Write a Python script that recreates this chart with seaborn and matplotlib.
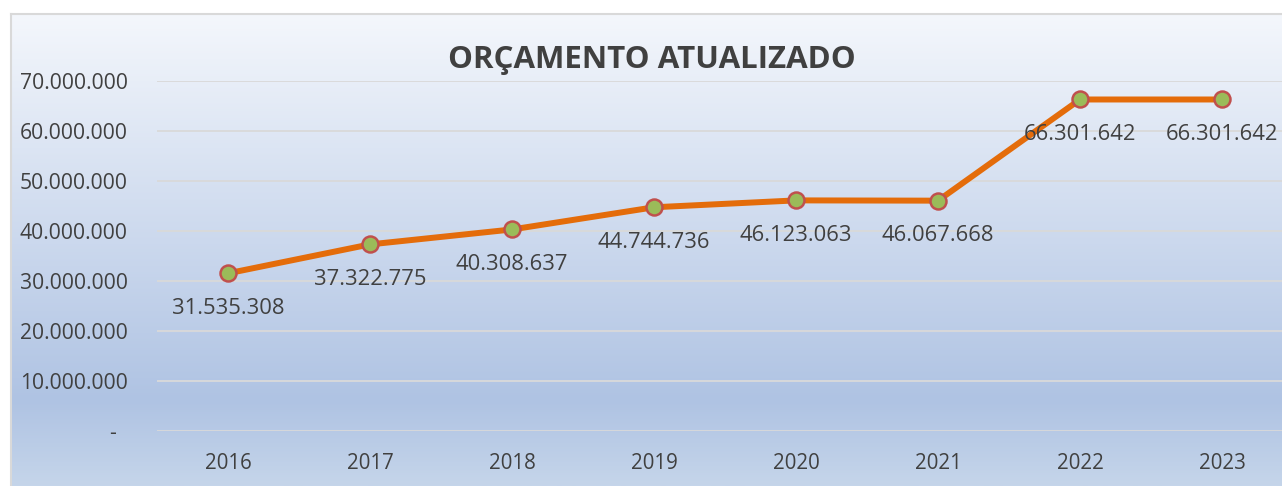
import numpy as np
import pandas as pd
import matplotlib
matplotlib.use("Agg")
import matplotlib.pyplot as plt
from matplotlib.colors import LinearSegmentedColormap
from matplotlib.ticker import FuncFormatter
import seaborn as sns

years = [2016, 2017, 2018, 2019, 2020, 2021, 2022, 2023]
values = [31535308, 37322775, 40308637, 44744736, 46123063, 46067668, 66301642, 66301642]
title = "ORÇAMENTO ATUALIZADO"

sns.set_theme(style="white")
plt.rcParams['font.family'] = ['Open Sans', 'DejaVu Sans']

W, H = 1282, 486
fig = plt.figure(figsize=(W / 100, H / 100), dpi=100)
fig.patch.set_facecolor("white")

# background gradient
bg = fig.add_axes([11 / W, 0, (W - 11) / W, (H - 14) / H], zorder=0)
cmap = LinearSegmentedColormap.from_list(
    "g", [(0.0, "#F4F7FC"), (0.82, "#AFC3E3"), (1.0, "#C5D5EA")])
grad = np.linspace(0, 1, 256).reshape(-1, 1)
bg.imshow(grad, aspect="auto", cmap=cmap, extent=[0, 1, 0, 1], origin="upper")
bg.set_xlim(0, 1); bg.set_ylim(0, 1)
bg.set_xticks([]); bg.set_yticks([])
for s in ["right", "bottom"]:
    bg.spines[s].set_visible(False)
for s in ["left", "top"]:
    bg.spines[s].set_color("#D9D9D9")
    bg.spines[s].set_linewidth(1.5)

# main axes
ax = fig.add_axes([157 / W, 55 / H, 1136 / W, 350 / H], zorder=1)
ax.set_facecolor("none")
df = pd.DataFrame({"Ano": years, "Valor": values})
sns.lineplot(data=df, x="Ano", y="Valor", ax=ax, color="#E46C0A", linewidth=4.3,
             marker="o", markersize=11.5, markerfacecolor="#9BBB59",
             markeredgecolor="#C0504D", markeredgewidth=1.8, clip_on=False, zorder=3)

ax.set_xlim(years[0] - 0.5, years[-1] + 0.5)
ax.set_ylim(0, 70000000)
ax.set_yticks(np.arange(0, 70000001, 10000000))
ax.set_xticks(years)
ax.set_xticklabels([str(y) for y in years])


def fmt(v, pos):
    if v == 0:
        return "-  "
    return f"{int(v):,}".replace(",", ".")


ax.yaxis.set_major_formatter(FuncFormatter(fmt))
ax.tick_params(axis="y", length=0, pad=21, labelsize=15.2, labelcolor="#404040")
ax.tick_params(axis="x", length=0, pad=16, labelsize=14.8, labelcolor="#404040")
ax.grid(axis="y", color="#D9D9D9", linewidth=1.3)
ax.grid(axis="x", visible=False)
for s in ax.spines.values():
    s.set_visible(False)
ax.set_xlabel(""); ax.set_ylabel("")

for x, v in zip(years, values):
    ax.annotate(f"{v:,}".replace(",", "."), (x, v), xytext=(0, -25.2),
                textcoords="offset points", ha="center", va="center",
                fontsize=15.8, color="#404040", zorder=4)

fig.text(652 / W, (H - 60) / H, title, ha="center", va="center",
         fontsize=22.5, fontweight="bold", color="#404040")

fig.savefig("out.png", dpi=100)
